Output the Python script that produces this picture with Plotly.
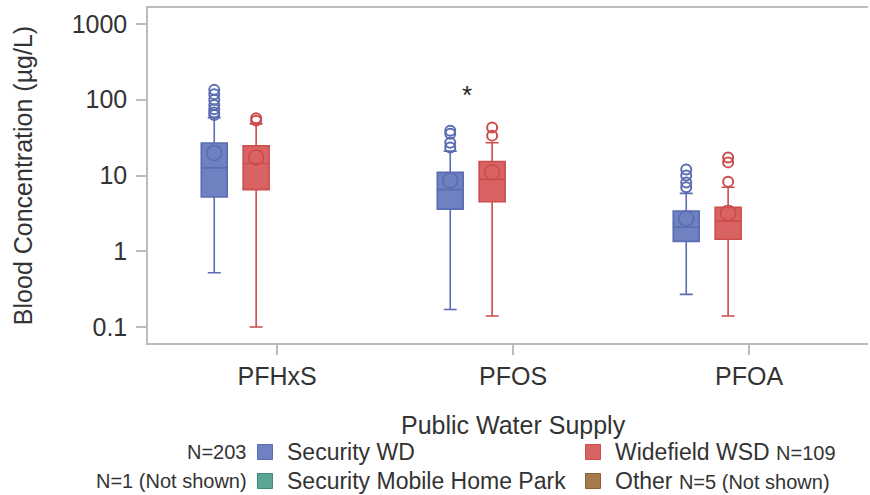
import plotly.graph_objects as go

# ---------------- data ----------------
categories = ["PFHxS", "PFOS", "PFOA"]
y_tick_vals = [0.1, 1, 10, 100, 1000]
y_tick_text = ["0.1", "1", "10", "100", "1000"]

groups = ["Security WD", "Widefield WSD", "Security Mobile Home Park", "Other"]
group_n = ["N=203", "N=109", "N=1 (Not shown)", "N=5 (Not shown)"]

sec_q1 = [5.2, 3.6, 1.35]
sec_median = [12.6, 6.5, 2.07]
sec_q3 = [26.9, 11.0, 3.4]
sec_low = [0.52, 0.17, 0.27]
sec_high = [58, 21, 5.8]
sec_mean = [19.8, 8.6, 2.7]
sec_outliers = [[63, 68, 75, 85, 100, 118, 135], [23.4, 27, 35.5, 39], [7.0, 8.1, 10, 12]]

wide_q1 = [6.5, 4.5, 1.44]
wide_median = [14.4, 8.9, 2.5]
wide_q3 = [24.7, 15.3, 3.8]
wide_low = [0.1, 0.14, 0.14]
wide_high = [48, 27, 7.0]
wide_mean = [17.3, 11.0, 3.2]
wide_outliers = [[53, 57], [33.6, 43], [8.3, 14.9, 17.3]]

# ---------------- styling ----------------
BLUE_FILL = "rgba(100,118,188,0.92)"
BLUE_LINE = "#5A6CB2"
RED_FILL = "rgba(214,86,86,0.92)"
RED_LINE = "#CC4C4C"
TEAL = "#5BA597"
TEAL_LINE = "#3F8A7C"
BROWN = "#A57B4E"
BROWN_LINE = "#87613A"
AXIS = "#BDBDBD"
TXT = "#333333"
FONT = "Liberation Sans, Arial, sans-serif"
NARROW = "Liberation Sans Narrow, Arial Narrow, sans-serif"

W, H = 870, 495
ML, MR, MT, MB = 148, 2, 8, 152
PW, PH = W - ML - MR, H - MT - MB

n_slots = 4
group_span = 0.71
slot = group_span / n_slots
box_w = 0.11


def slot_offset(k):
    return (k - (n_slots - 1) / 2) * slot


def px_x(px):
    return (px - ML) / PW


def px_y(py):
    return (H - MB - py) / PH


fig = go.Figure()


def add_series(k, q1, med, q3, low, high, mean, outl, fill, line):
    off = slot_offset(k)
    xs = [i + off for i in range(len(categories))]
    fig.add_trace(go.Box(
        x=xs, q1=q1, median=med, q3=q3, lowerfence=low, upperfence=high,
        width=box_w, fillcolor=fill, line=dict(color=line, width=1.6),
        whiskerwidth=0.5, boxpoints=False, showlegend=False, hoverinfo="skip"))
    fig.add_trace(go.Scatter(
        x=xs, y=mean, mode="markers", showlegend=False, hoverinfo="skip",
        marker=dict(symbol="circle-open", size=15, color=line, line=dict(width=1.6))))
    ox, oy = [], []
    for i, vals in enumerate(outl):
        for v in vals:
            ox.append(i + off)
            oy.append(v)
    fig.add_trace(go.Scatter(
        x=ox, y=oy, mode="markers", showlegend=False, hoverinfo="skip",
        marker=dict(symbol="circle-open", size=10, color=line, line=dict(width=2))))


add_series(0, sec_q1, sec_median, sec_q3, sec_low, sec_high, sec_mean, sec_outliers, BLUE_FILL, BLUE_LINE)
add_series(1, wide_q1, wide_median, wide_q3, wide_low, wide_high, wide_mean, wide_outliers, RED_FILL, RED_LINE)

fig.update_layout(
    width=W, height=H,
    margin=dict(l=ML, r=MR, t=MT, b=MB),
    paper_bgcolor="white", plot_bgcolor="white",
    font=dict(family=FONT, color=TXT, size=23),
    showlegend=False,
    xaxis=dict(range=[-0.547, 2.504], tickvals=[0, 1, 2], ticktext=categories,
               ticks="outside", ticklen=10, tickcolor=AXIS, tickwidth=1.5,
               showline=True, linecolor=AXIS, linewidth=1.5, mirror=True,
               showgrid=False, zeroline=False, tickfont=dict(size=25), automargin=False),
    yaxis=dict(type="log", range=[-1.211, 3.211], tickvals=y_tick_vals, ticktext=y_tick_text,
               ticks="outside", ticklen=10, tickcolor=AXIS, tickwidth=1.5,
               showline=True, linecolor=AXIS, linewidth=1.5, mirror=False,
               showgrid=False, zeroline=False, tickfont=dict(size=25), automargin=False,
               ticklabelstandoff=4,
               title=dict(text="Blood Concentration (µg/L)", font=dict(size=25), standoff=32)),
)

# ----- legend (drawn as swatches + labels) -----
fig.add_annotation(x=px_x(513), y=px_y(425), xref="paper", yref="paper", text="Public Water Supply",
                   showarrow=False, font=dict(size=25), xanchor="center", yanchor="middle")

legend_items = [
    # (name, fill, line, swatch centre x px, row y px, left note, right note)
    (groups[0], BLUE_FILL, BLUE_LINE, 265, 452, group_n[0], ""),
    (groups[2], TEAL, TEAL_LINE, 265, 481, group_n[2], ""),
    (groups[1], RED_FILL, RED_LINE, 593, 452, "", group_n[1]),
    (groups[3], BROWN, BROWN_LINE, 593, 481, "", group_n[3]),
]
for name, fc, lc, cx, cy, left_note, right_note in legend_items:
    fig.add_shape(type="rect", xref="paper", yref="paper",
                  xsizemode="pixel", ysizemode="pixel",
                  xanchor=px_x(cx), yanchor=px_y(cy),
                  x0=-7.5, x1=7.5, y0=-7.5, y1=7.5,
                  fillcolor=fc, line=dict(color=lc, width=1))
    label = name
    if right_note:
        label = f"{name} <span style='font-family:{NARROW};font-size:20px'>{right_note}</span>"
    fig.add_annotation(x=px_x(cx + 20), y=px_y(cy), xref="paper", yref="paper", text=label,
                       showarrow=False, font=dict(size=23), xanchor="left", yanchor="middle")
    if left_note:
        fig.add_annotation(x=px_x(cx - 16), y=px_y(cy), xref="paper", yref="paper", text=left_note,
                           showarrow=False, font=dict(size=20, family=NARROW),
                           xanchor="right", yanchor="middle")

fig.add_annotation(x=1 + slot_offset(0) + 0.07, y=2.06, xref="x", yref="y", text="*",
                   showarrow=False, font=dict(size=26, color="#222"))

fig.write_html("out.html", config={"displayModeBar": False},
               post_script="document.body.style.margin='0px';document.body.style.overflow='hidden';")
